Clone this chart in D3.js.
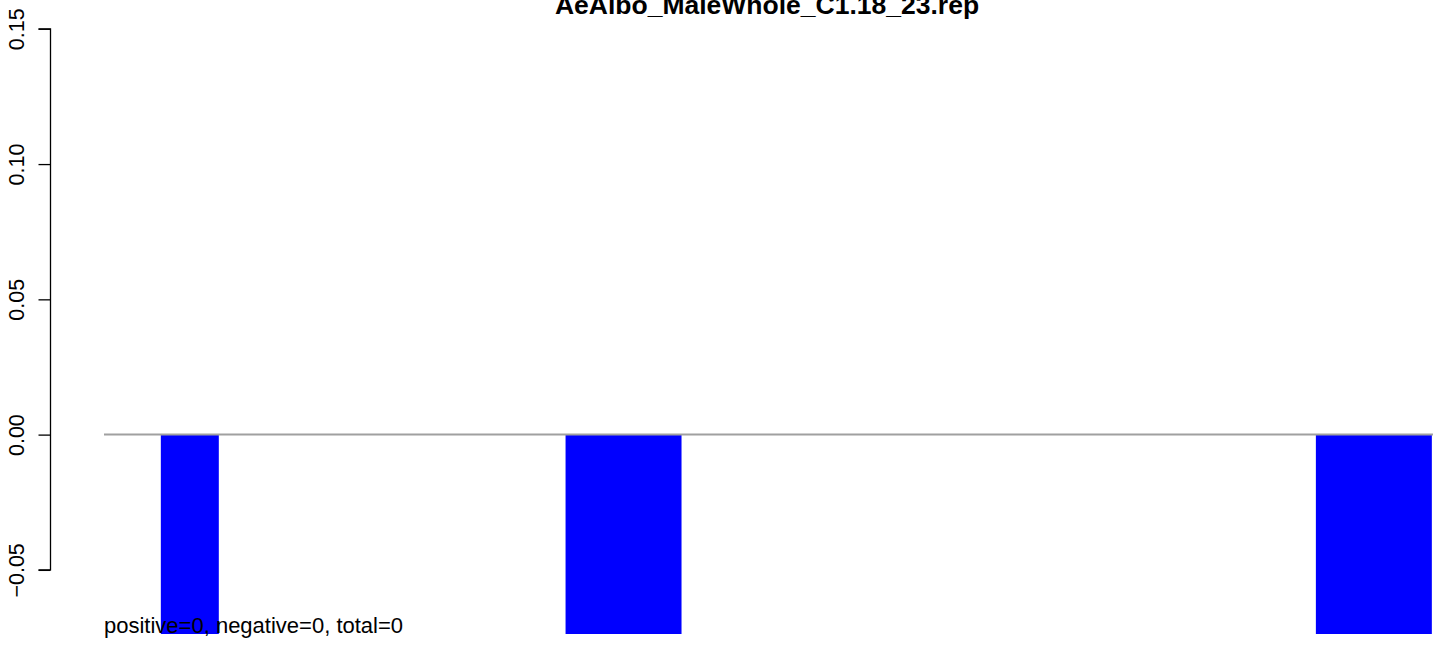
<!DOCTYPE html>
<html><head><meta charset="utf-8">
<script src="https://cdn.jsdelivr.net/npm/d3@7"></script>
<style>body{margin:0;background:#fff}svg{display:block}text{font-family:"Liberation Sans",Arial,sans-serif}</style>
</head><body>
<svg id="c" width="1444" height="645"></svg>
<script>
const title = "AeAlbo_MaleWhole_C1.18_23.rep";
const footnote = "positive=0, negative=0, total=0";
const barStart = [0.49, 3.98, 10.45];
const barEnd = [0.99, 4.98, 11.45];
const values = [-0.0737, -0.0737, -0.0737];
const yTicks = [-0.05, 0.00, 0.05, 0.10, 0.15];
const yTickLabels = ["\u22120.05", "0.00", "0.05", "0.10", "0.15"];

const svg = d3.select("#c");
const x = d3.scaleLinear().domain([0, 11.46]).range([104, 1433]);
const y = d3.scaleLinear().domain([-0.0737, 0.15]).range([634, 28.8]);

svg.append("defs").append("clipPath").attr("id","pc").append("rect")
  .attr("x", 104).attr("y", y(0.15)).attr("width", 1340).attr("height", y(-0.0737)-y(0.15));

const g = svg.append("g").attr("clip-path","url(#pc)");
g.selectAll("rect.bar").data(values).join("rect").attr("class","bar")
  .attr("x",(d,i)=>x(barStart[i])).attr("width",(d,i)=>x(barEnd[i])-x(barStart[i]))
  .attr("y",d=>y(Math.max(0,d))).attr("height",d=>Math.abs(y(d)-y(0)))
  .attr("fill","#0000ff");

svg.append("line").attr("x1",x(0)).attr("x2",x(11.46)).attr("y1",y(0)).attr("y2",y(0))
  .attr("stroke","#a0a0a0").attr("stroke-width",2);

const ax = svg.append("g").attr("transform","translate(50.5,0)")
  .call(d3.axisLeft(y).tickValues(yTicks).tickSize(12).tickFormat(""));
ax.select(".domain").attr("d", `M-12,${y(0.15)}H0V${y(-0.05)}H-12`).attr("stroke","#000").attr("stroke-width",1.3);
ax.selectAll(".tick line").attr("stroke","#000").attr("stroke-width",1.3);
ax.selectAll(".tick").each(function(d,i){
  d3.select(this).append("text").attr("transform","rotate(-90)").attr("x",0).attr("y",-27)
    .attr("text-anchor","middle").attr("fill","#000").attr("font-size",21.5).attr("stroke","none")
    .style("font-family","'Liberation Sans',Arial,sans-serif").text(yTickLabels[i]);
});

svg.append("text").attr("x",767).attr("y",14).attr("text-anchor","middle")
  .attr("font-size",26.5).attr("font-weight","bold").text(title);
svg.append("text").attr("x",104).attr("y",633).attr("font-size",22).text(footnote);
</script>
</body></html>
